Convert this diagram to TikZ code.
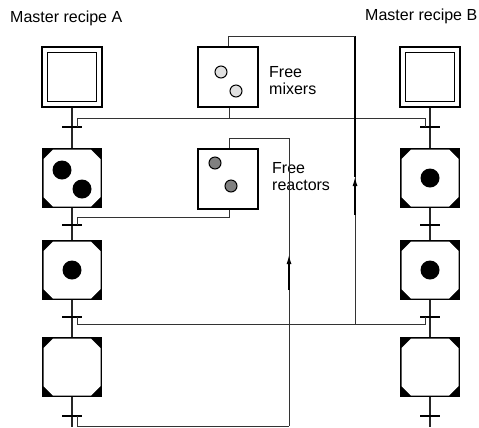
\documentclass[tikz,border=0pt]{standalone}
\usepackage{fontspec}
\setmainfont{Liberation Sans}
\usetikzlibrary{arrows.meta,calc}
\tikzset{
  stepline/.style={line width=1.2bp,draw=black!85},
  conn/.style={line width=1bp,draw=black!80},
  plainbox/.style={draw,line width=1.4bp,minimum size=60bp,inner sep=0pt,fill=white},
  initstep/.style={plainbox},
  activestep/.style={minimum size=60bp,inner sep=0pt,fill=black,
    path picture={\fill[white]
      ([shift={(1.5bp,11bp)}]path picture bounding box.south west) --
      ([shift={(11bp,1.5bp)}]path picture bounding box.south west) --
      ([shift={(-11bp,1.5bp)}]path picture bounding box.south east) --
      ([shift={(-1.5bp,11bp)}]path picture bounding box.south east) --
      ([shift={(-1.5bp,-11bp)}]path picture bounding box.north east) --
      ([shift={(-11bp,-1.5bp)}]path picture bounding box.north east) --
      ([shift={(11bp,-1.5bp)}]path picture bounding box.north west) --
      ([shift={(1.5bp,-11bp)}]path picture bounding box.north west) -- cycle;}},
  trans/.style={fill=black,minimum width=20bp,minimum height=1.6bp,inner sep=0pt,outer sep=0pt},
  token/.style={fill=black},
  lighttoken/.style={fill=black!12,draw=black,line width=1bp},
  darktoken/.style={fill=black!50,draw=black,line width=1bp},
  lbl/.style={font=\fontsize{16bp}{17bp}\selectfont,inner sep=0pt,align=left},
  flowarrow/.style={-{Latex[length=9bp,width=5bp]},line width=1.2bp,draw=black},
}
\begin{document}
\begin{tikzpicture}[x=1bp,y=-1bp]
\useasboundingbox (0,0) rectangle (479,427);

% labels
\node[lbl,anchor=base west] (labA) at (10,22) {Master recipe A};
\node[lbl,anchor=base west] (labB) at (365,20) {Master recipe B};
\node[lbl,anchor=north west] (labM) at (269,66.5) {Free\\mixers};
\node[lbl,anchor=north west] (labR) at (272,162) {Free\\reactors};

% resource boxes
\node[plainbox] (M) at (228,77) {};
\node[plainbox] (R) at (228,179) {};
\draw[lighttoken] ($(M.center)+(-7,-5)$) circle (6bp);
\draw[lighttoken] ($(M.center)+(8,14)$) circle (6bp);
\draw[darktoken] ($(R.center)+(-13,-16)$) circle (6bp);
\draw[darktoken] ($(R.center)+(3,7)$) circle (6bp);

% transitions
\foreach \n/\y in {1/127,2/225,3/317,4/416}{
  \node[trans] (tA\n) at (72,\y) {};
  \node[trans] (tB\n) at (430,\y) {};
}
\coordinate (endA) at (72,427);
\coordinate (endB) at (430,427);

% recipe A steps
\node[initstep] (A1) at (72,77) {};
\node[activestep] (A2) at (72,178) {};
\node[activestep] (A3) at (72,270) {};
\node[activestep] (A4) at (72,367) {};
% recipe B steps
\node[initstep] (B1) at (430,77) {};
\node[activestep] (B2) at (430,178) {};
\node[activestep] (B3) at (430,270) {};
\node[activestep] (B4) at (430,367) {};

% inner squares of initial steps
\foreach \s in {A1,B1}{
  \draw[line width=1.4bp] ([shift={(6bp,6bp)}]\s.south west) rectangle ([shift={(-6bp,-6bp)}]\s.north east);
}

% tokens
\fill[token] ($(A2.center)+(-10,-8)$) circle (9.5bp);
\fill[token] ($(A2.center)+(10,11)$) circle (9.5bp);
\fill[token] (A3.center) circle (9.5bp);
\fill[token] (B2.center) circle (9.5bp);
\fill[token] (B3.center) circle (9.5bp);

% step chains
\draw[stepline] (A1) -- (tA1) -- (A2) -- (tA2) -- (A3) -- (tA3) -- (A4) -- (tA4) -- (endA);
\draw[stepline] (B1) -- (tB1) -- (B2) -- (tB2) -- (B3) -- (tB3) -- (B4) -- (tB4) -- (endB);

% mixer release (to first transitions)
\coordinate (mrel) at ($(M.south)+(1,11)$);
\draw[conn] (M.south -| mrel) -- (mrel);
\draw[conn] ([xshift=5bp]tA1.center) |- (mrel) -| ([xshift=-5bp]tB1.center);

% mixer return (from third transitions)
\coordinate (mret) at (355,324);
\coordinate (marr) at (355,177);
\coordinate (mtop) at (355,36);
\draw[conn] ([xshift=5bp]tA3.center) |- (mret) -| ([xshift=-5bp]tB3.center);
\draw[conn] (mret) -- (marr);
\draw[flowarrow] (355,215) -- (marr);
\draw[conn,draw=black,line width=1.2bp] (marr) -- (mtop);
\draw[conn] (mtop) -| (M.north);

% reactor release (to A second transition)
\coordinate (rrel) at ($(R.south)+(1,8)$);
\draw[conn] (R.south -| rrel) -- (rrel) -| ([xshift=5bp]tA2.center);

% reactor return (from A fourth transition)
\coordinate (rbot) at (289,426);
\coordinate (rarr) at (289,255);
\coordinate (rtop) at (289,138);
\draw[conn] ([xshift=5bp]tA4.center) |- (rbot);
\draw[conn] (rbot) -- (rarr);
\draw[flowarrow] (289,290) -- (rarr);
\draw[conn] (rarr) -- (rtop);
\draw[conn] (rtop) -| ([xshift=1bp]R.north);
\end{tikzpicture}
\end{document}
